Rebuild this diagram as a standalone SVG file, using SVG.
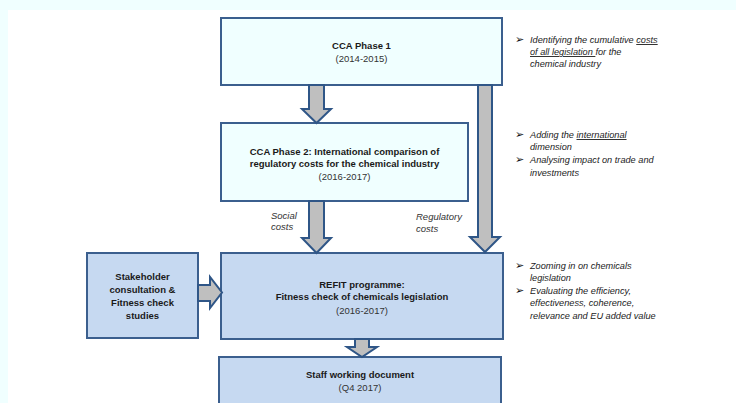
<svg xmlns="http://www.w3.org/2000/svg" width="736" height="403" viewBox="0 0 736 403">
  <style>
    .box { stroke: #3b5f8e; stroke-width: 2; }
    .phase { fill: #f0ffff; }
    .refit { fill: #c6d9f1; }
    .arrow { fill: #bfbfbf; stroke: #2f5687; stroke-width: 2; stroke-linejoin: miter; }
    text { font-family: "Liberation Sans", Arial, sans-serif; fill: #1a1a1a; }
    .title { font-size: 9.5px; font-weight: bold; text-anchor: middle; }
    .sub { font-size: 9.5px; text-anchor: middle; fill: #333333; }
    .label { font-size: 9.5px; font-style: italic; fill: #333333; }
    .note { font-size: 9.2px; font-style: italic; fill: #222222; }
    .bullet { font-size: 11px; fill: #111111; font-family: "DejaVu Sans", sans-serif; }
  </style>

  <!-- page frame tint -->
  <rect x="0" y="0" width="736" height="403" fill="#ffffff"/>
  <rect x="0" y="0" width="736" height="10" fill="#f0ffff"/>
  <rect x="0" y="0" width="8" height="403" fill="#f0ffff"/>

  <g id="phase1">
    <rect class="box phase" x="221" y="18" width="281" height="67"/>
    <text class="title" x="361.5" y="49">CCA Phase 1</text>
    <text class="sub" x="361.5" y="62">(2014-2015)</text>
  </g>

  <g id="phase2">
    <rect class="box phase" x="221" y="123" width="247" height="78"/>
    <text class="title" x="344.5" y="155">CCA Phase 2: International comparison of</text>
    <text class="title" x="344.5" y="167">regulatory costs  for the chemical industry</text>
    <text class="sub" x="344.5" y="180">(2016-2017)</text>
  </g>

  <g id="refit">
    <rect class="box refit" x="221" y="253" width="282" height="86"/>
    <text class="title" x="362" y="288">REFIT programme:</text>
    <text class="title" x="362" y="300">Fitness check of chemicals legislation</text>
    <text class="sub" x="362" y="314">(2016-2017)</text>
  </g>

  <g id="stakeholder">
    <rect class="box refit" x="87" y="253" width="111" height="85"/>
    <text class="title" x="142.5" y="280">Stakeholder</text>
    <text class="title" x="142.5" y="293">consultation &amp;</text>
    <text class="title" x="142.5" y="306">Fitness check</text>
    <text class="title" x="142.5" y="319">studies</text>
  </g>

  <g id="swd">
    <rect class="box refit" x="219" y="357" width="282" height="60"/>
    <text class="title" x="360" y="378">Staff working document</text>
    <text class="sub" x="360" y="391">(Q4 2017)</text>
  </g>

  <g id="connectors">
    <polygon class="arrow" points="309,85 324,85 324,109 331,109 316.5,123 302,109 309,109"/>
    <polygon class="arrow" points="309,201 324,201 324,238 331,238 316.5,253 302,238 309,238"/>
    <polygon class="arrow" points="478,85 492,85 492,237 500,237 485,252 470,237 478,237"/>
    <polygon class="arrow" points="198,285 210,285 210,277 222,292.5 210,308 210,301 198,301"/>
    <polygon class="arrow" points="355,339 369,339 369,347 377,347 362,357 347,347 355,347"/>
    <text class="label" x="271" y="219">Social</text>
    <text class="label" x="271" y="230">costs</text>
    <text class="label" x="416" y="220">Regulatory</text>
    <text class="label" x="416" y="232">costs</text>
  </g>

  <g id="notes">
    <text class="bullet" x="515" y="43">➢</text>
    <text class="note" x="530" y="43">Identifying the cumulative <tspan text-decoration="underline">costs</tspan></text>
    <text class="note" x="530" y="55"><tspan text-decoration="underline">of all legislation </tspan>for the</text>
    <text class="note" x="530" y="67">chemical industry</text>

    <text class="bullet" x="515" y="138">➢</text>
    <text class="note" x="530" y="138">Adding the <tspan text-decoration="underline">international</tspan></text>
    <text class="note" x="530" y="150">dimension</text>
    <text class="bullet" x="515" y="163">➢</text>
    <text class="note" x="530" y="163">Analysing impact on trade and</text>
    <text class="note" x="530" y="176">investments</text>

    <text class="bullet" x="515" y="269">➢</text>
    <text class="note" x="530" y="269">Zooming in on chemicals</text>
    <text class="note" x="530" y="281">legislation</text>
    <text class="bullet" x="515" y="294">➢</text>
    <text class="note" x="530" y="294">Evaluating the efficiency,</text>
    <text class="note" x="530" y="306">effectiveness, coherence,</text>
    <text class="note" x="530" y="319">relevance and EU added value</text>
  </g>
</svg>
